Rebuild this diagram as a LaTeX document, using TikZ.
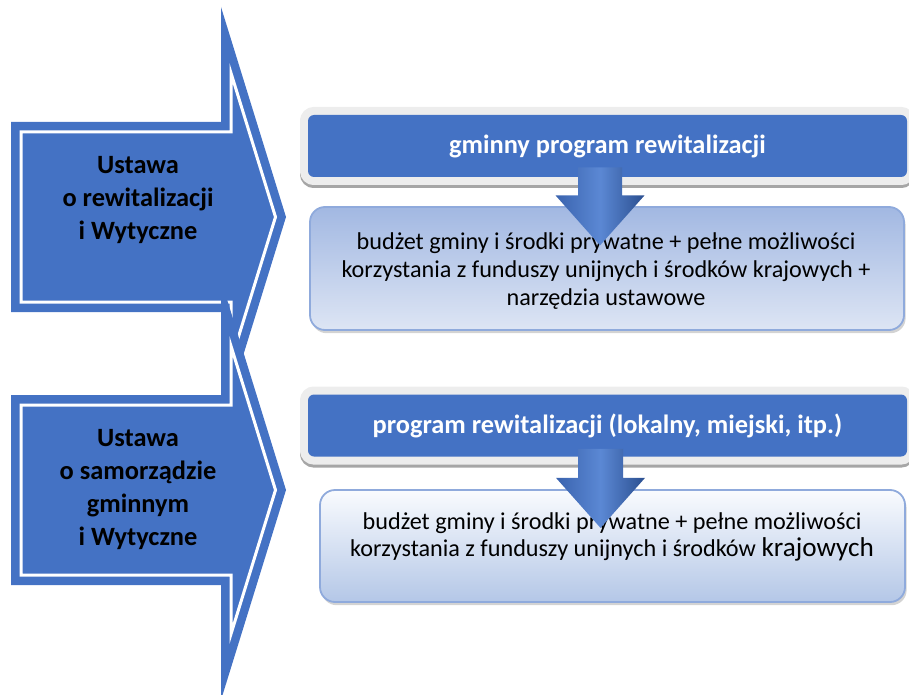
\documentclass[tikz,border=0pt]{standalone}
\usepackage{fontspec}
\setmainfont{Carlito}
\usepackage{xcolor}
\usepackage{tikz}
\usetikzlibrary{calc,shadows}
\definecolor{lawblue}{HTML}{4472C4}
\definecolor{rimgray}{HTML}{EDEDED}
\definecolor{rimshade}{HTML}{A6A6A6}
\definecolor{boxline}{HTML}{8FAADC}
\definecolor{boxblue}{HTML}{A2B8E2}
\definecolor{boxpale}{HTML}{DDE5F4}
\definecolor{boxlight}{HTML}{F9FBFE}
\definecolor{boxmid}{HTML}{B4C7E7}
\definecolor{dropdark}{HTML}{2B4F90}
\definecolor{dropedge}{HTML}{3A63AE}
\definecolor{droplight}{HTML}{5B88D4}
\tikzset{
    lawarrow/.style={fill=lawblue},
    lawinner/.style={draw=white,line width=1.5pt,line join=miter},
    lawtext/.style={font=\fontsize{13.2}{16.5}\selectfont\bfseries,align=center,
      text=black,inner sep=0pt},
    prognode/.style={fill=lawblue,rounded corners=3pt,minimum width=299.5pt,
      minimum height=31pt,inner sep=0pt,text=white,
      font=\fontsize{13.2}{16}\selectfont\bfseries,
      preaction={draw=rimshade,line width=8pt,transform canvas={yshift=-1.5pt}},
      preaction={draw=rimgray,line width=8pt}},
    fundbox/.style={draw=boxline,line width=0.9pt,rounded corners=7.5pt,inner sep=0pt,
      drop shadow={shadow xshift=0.8pt,shadow yshift=-1.6pt,opacity=0.35}},
    fundtext/.style={font=\fontsize{12.1}{13.9}\selectfont,align=center,
      text=black,inner sep=0pt},
    droparrow/.style={left color=dropedge,right color=dropdark,middle color=droplight}
}
\begin{document}
\begin{tikzpicture}[x=0.5pt,y=-0.5pt]
  \clip (0,0) rectangle (909,695);
  \fill[lawarrow] (11,122) -- (221,122) -- (221,7) -- (286,217) -- (221,427)
    -- (221,312) -- (11,312) -- cycle;
  \draw[lawinner] (21,132) -- (231,132) -- (231,73) -- (275.5,217) -- (231,361)
    -- (231,302) -- (21,302) -- cycle;
  \fill[lawarrow] (11,395) -- (221,395) -- (221,280) -- (286,490) -- (221,700)
    -- (221,585) -- (11,585) -- cycle;
  \draw[lawinner] (21,405) -- (231,405) -- (231,346) -- (275.5,490) -- (231,634)
    -- (231,575) -- (21,575) -- cycle;
  \node[lawtext] (lawA) at (138,200) {Ustawa\\o rewitalizacji\\i Wytyczne};
  \node[lawtext] (lawB) at (138,490) {Ustawa\\o samorządzie\\gminnym\\i Wytyczne};

  \node[prognode] (hdrA) at (607.5,146) {gminny program rewitalizacji};
  \node[fundbox,top color=boxblue,bottom color=boxpale,minimum width=297pt,
    minimum height=61.5pt] (fundA) at (607,268.5) {};
  \node[fundtext] (txtA) at (606,271) {budżet gminy i środki prywatne + pełne możliwości\\
    korzystania z funduszy unijnych i środków krajowych +\\narzędzia ustawowe};
  \shade[droparrow] ($(hdrA.south)+(-29.5,-10)$) -- ++(44,0) -- ++(0,28) -- ++(22.5,0)
    -- ++(-44.5,50) -- ++(-44.5,-50) -- ++(22.5,0) -- cycle;

  \node[prognode] (hdrB) at (607.5,425.5) {program rewitalizacji (lokalny, miejski, itp.)};
  \node[fundbox,top color=boxlight,bottom color=boxmid,minimum width=292.5pt,
    minimum height=56pt] (fundB) at (612.5,546) {};
  \node[fundtext] (txtB) at (612,537) {budżet gminy i środki prywatne + pełne możliwości\\
    korzystania z funduszy unijnych i środków {\fontsize{13.6}{13.9}\selectfont krajowych}};
  \shade[droparrow] ($(hdrB.south)+(-29.5,-8)$) -- ++(45,0) -- ++(0,29) -- ++(22,0)
    -- ++(-44.5,50) -- ++(-44.5,-50) -- ++(22,0) -- cycle;
\end{tikzpicture}
\end{document}
